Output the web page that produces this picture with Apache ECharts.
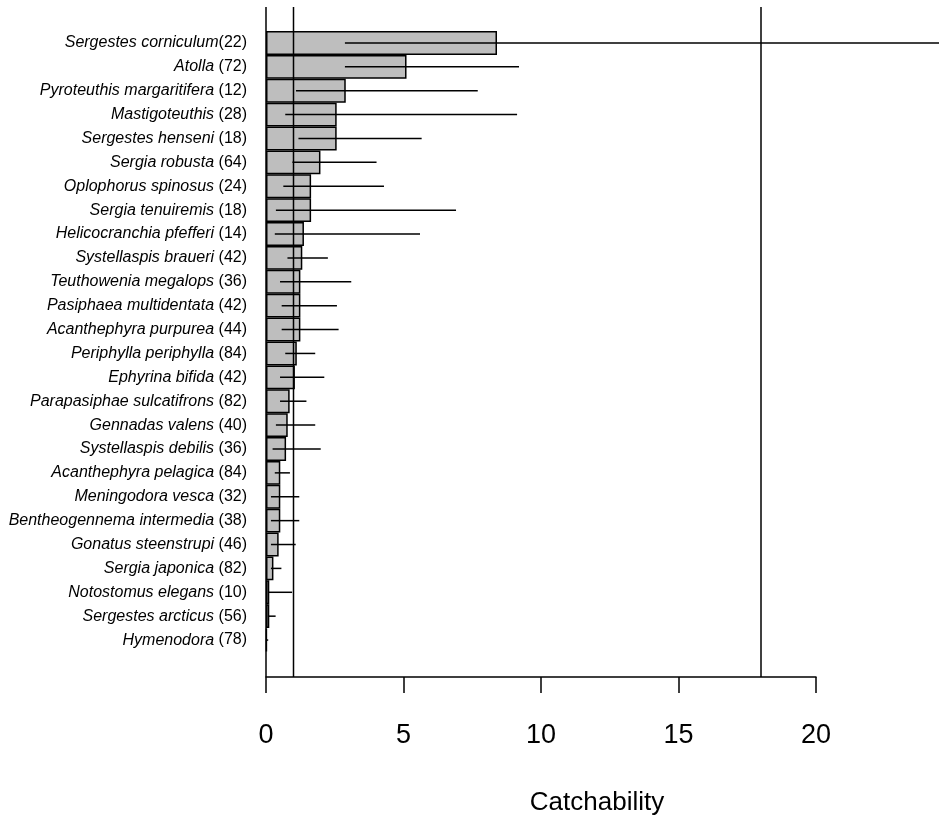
<!DOCTYPE html>
<html>
<head>
<meta charset="utf-8">
<script src="https://cdn.jsdelivr.net/npm/echarts@6/dist/echarts.min.js"></script>
<style>
html,body{margin:0;padding:0;background:#fff;}
#chart{width:939px;height:825px;}
</style>
</head>
<body>
<div id="chart"></div>
<script>
// Species labels (top to bottom) with sample sizes
const labels = [
  "Sergestes corniculum(22)",
  "Atolla (72)",
  "Pyroteuthis margaritifera (12)",
  "Mastigoteuthis (28)",
  "Sergestes henseni (18)",
  "Sergia robusta (64)",
  "Oplophorus spinosus (24)",
  "Sergia tenuiremis (18)",
  "Helicocranchia pfefferi (14)",
  "Systellaspis braueri (42)",
  "Teuthowenia megalops (36)",
  "Pasiphaea multidentata (42)",
  "Acanthephyra purpurea (44)",
  "Periphylla periphylla (84)",
  "Ephyrina bifida (42)",
  "Parapasiphae sulcatifrons (82)",
  "Gennadas valens (40)",
  "Systellaspis debilis (36)",
  "Acanthephyra pelagica (84)",
  "Meningodora vesca (32)",
  "Bentheogennema intermedia (38)",
  "Gonatus steenstrupi (46)",
  "Sergia japonica (82)",
  "Notostomus elegans (10)",
  "Sergestes arcticus (56)",
  "Hymenodora (78)"
];
// Catchability estimate
const catchability = [8.40, 5.11, 2.90, 2.57, 2.57, 1.98, 1.64, 1.64, 1.38, 1.32, 1.25, 1.25, 1.25, 1.12, 1.05, 0.86, 0.79, 0.73, 0.52, 0.52, 0.52, 0.46, 0.27, 0.12, 0.12, 0.03];
// Interval lower / upper limits
const lower = [2.87, 2.87, 1.09, 0.70, 1.18, 0.96, 0.63, 0.36, 0.32, 0.78, 0.51, 0.57, 0.57, 0.70, 0.51, 0.51, 0.36, 0.24, 0.32, 0.18, 0.18, 0.18, 0.18, 0.10, 0.07, 0.00];
const upper = [25.0, 9.20, 7.70, 9.13, 5.66, 4.02, 4.29, 6.91, 5.60, 2.25, 3.10, 2.58, 2.64, 1.79, 2.12, 1.47, 1.79, 1.99, 0.87, 1.21, 1.21, 1.08, 0.56, 0.95, 0.35, 0.08];
// Vertical reference lines
const refLines = [0, 1, 18];
const xTicks = [0, 5, 10, 15, 20];
const xTitle = "Catchability";

const FONT = "'Liberation Sans', Arial, Helvetica, sans-serif";
const chart = echarts.init(document.getElementById('chart'), null, {renderer: 'canvas'});

const errData = labels.map((l, i) => [i, lower[i], upper[i]]);

const option = {
  backgroundColor: '#fff',
  animation: false,
  grid: [
    {left: 266, top: 31, width: 550, height: 621},
    {left: 266, top: 7, width: 550, height: 670}
  ],
  xAxis: [
    {gridIndex: 0, type: 'value', min: 0, max: 20, show: false},
    {
      gridIndex: 1, type: 'value', min: xTicks[0], max: xTicks[xTicks.length - 1], interval: 5,
      axisLine: {show: true, lineStyle: {color: '#000', width: 1.5}},
      axisTick: {show: true, length: 16, lineStyle: {color: '#000', width: 1.5}},
      axisLabel: {show: true, color: '#000', fontSize: 27, fontFamily: FONT, margin: 45},
      splitLine: {show: false}
    }
  ],
  yAxis: [
    {
      gridIndex: 0, type: 'category', inverse: true, data: labels,
      axisLine: {show: false}, axisTick: {show: false}, splitLine: {show: false},
      axisLabel: {
        interval: 0, margin: 19, color: '#000', fontSize: 16, fontFamily: FONT,
        formatter: function (s) {
          const m = s.match(/^(.*?)(\s?\(\d+\))$/);
          return '{i|' + m[1] + '}{n|' + m[2].replace(' ', '\u00a0') + '}';
        },
        rich: {
          i: {fontStyle: 'italic', fontSize: 16, fontFamily: FONT, color: '#000'},
          n: {fontSize: 16, fontFamily: FONT, color: '#000'}
        }
      }
    },
    {gridIndex: 1, type: 'value', min: 0, max: 1, show: false}
  ],
  series: [
    {
      type: 'bar', xAxisIndex: 0, yAxisIndex: 0,
      data: catchability,
      barCategoryGap: '0%',
      itemStyle: {color: '#bebebe', borderColor: '#000', borderWidth: 1.5},
      silent: true, z: 2
    },
    {
      type: 'custom', xAxisIndex: 0, yAxisIndex: 0,
      data: errData, clip: false, silent: true, z: 4,
      encode: {x: [1, 2], y: 0},
      renderItem: function (params, api) {
        const y = api.value(0);
        const p1 = api.coord([api.value(1), y]);
        const p2 = api.coord([api.value(2), y]);
        return {
          type: 'line',
          shape: {x1: p1[0], y1: p1[1], x2: p2[0], y2: p2[1]},
          style: {stroke: '#000', lineWidth: 1.5}
        };
      }
    },
    {
      type: 'custom', xAxisIndex: 1, yAxisIndex: 1,
      data: refLines.map(v => [v]), clip: false, silent: true, z: 5,
      encode: {x: 0},
      renderItem: function (params, api) {
        const v = api.value(0);
        const p1 = api.coord([v, 0]);
        const p2 = api.coord([v, 1]);
        return {
          type: 'line',
          shape: {x1: p1[0], y1: p1[1], x2: p2[0], y2: p2[1]},
          style: {stroke: '#000', lineWidth: 1.5}
        };
      }
    }
  ],
  graphic: [
    {
      type: 'text', x: 597, y: 803,
      style: {text: xTitle, fontSize: 26, fontFamily: FONT, fill: '#000', align: 'center', verticalAlign: 'middle'}
    }
  ]
};
chart.setOption(option);
</script>
</body>
</html>
